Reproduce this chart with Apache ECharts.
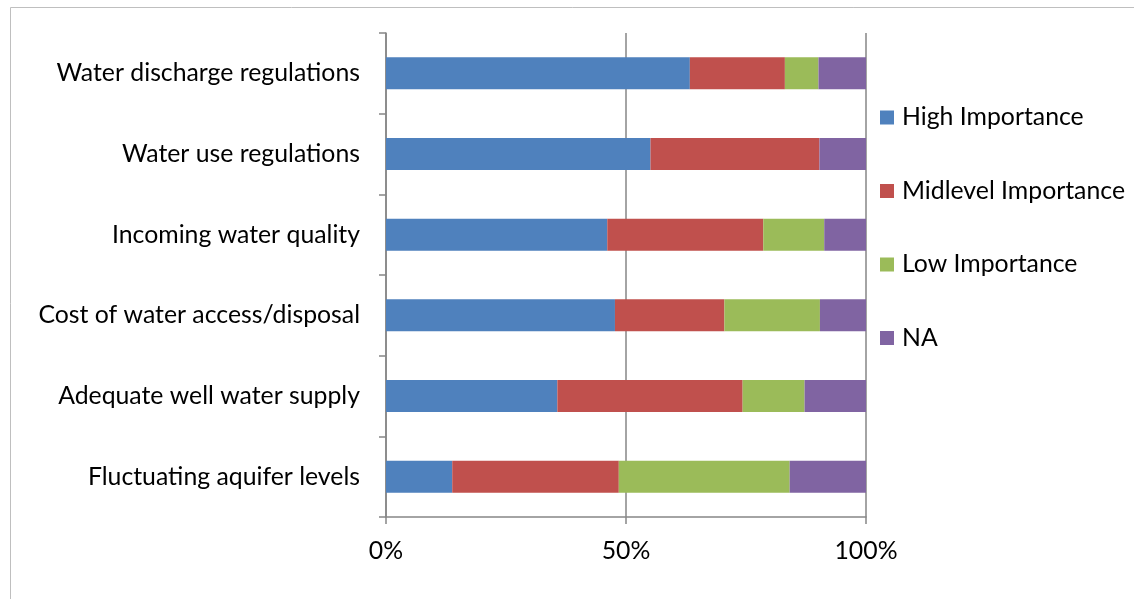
<!DOCTYPE html>
<html>
<head>
<meta charset="utf-8">
<script src="https://cdn.jsdelivr.net/npm/echarts@6/dist/echarts.min.js"></script>
<style>
html,body{margin:0;padding:0;background:#fff;}
#chart{width:1134px;height:599px;}
</style>
</head>
<body>
<div id="chart"></div>
<script>
const categories = ["Water discharge regulations","Water use regulations","Incoming water quality","Cost of water access/disposal","Adequate well water supply","Fluctuating aquifer levels"];
const seriesNames = ["High Importance","Midlevel Importance","Low Importance","NA"];
const highImportance = [63.3, 55.1, 46.1, 47.7, 35.7, 13.8];
const midImportance  = [19.8, 35.2, 32.5, 22.8, 38.6, 34.7];
const lowImportance  = [7.0, 0, 12.7, 19.9, 12.9, 35.6];
const naValues       = [9.9, 9.7, 8.7, 9.6, 12.8, 15.9];
const xTicks = [0, 50, 100];

const colors = ["#4F81BD","#C0504D","#9BBB59","#8064A2"];
const FONT = "Lato";
const chart = echarts.init(document.getElementById('chart'), null, {renderer:'canvas'});
const values = [highImportance, midImportance, lowImportance, naValues];
const option = {
  animation:false,
  backgroundColor:'#fff',
  color: colors,
  graphic:[{type:'rect', left:8, top:5, shape:{width:2000,height:2000}, style:{fill:'none', stroke:'#BFBFBF', lineWidth:1}, silent:true}],
  grid:{left:386, right:268, top:33, bottom:82, containLabel:false},
  legend:{
    orient:'vertical', left:875, top:99.5, itemWidth:14, itemHeight:14, itemGap:47.5,
    icon:'rect',
    textStyle:{fontFamily:FONT, fontSize:24.8, color:'#000', lineHeight:26, padding:[0,0,0,3]},
    data: seriesNames
  },
  xAxis:{
    type:'value', min:xTicks[0], max:xTicks[xTicks.length-1], interval:xTicks[1]-xTicks[0],
    axisLine:{show:true, lineStyle:{color:'#868686', width:1.5}},
    axisTick:{show:true, length:7, lineStyle:{color:'#868686', width:1.5}},
    splitLine:{show:true, lineStyle:{color:'#868686', width:1.5}},
    axisLabel:{formatter:'{value}%', fontFamily:FONT, fontSize:24.8, color:'#000', margin:22}
  },
  yAxis:{
    type:'category', data:categories, inverse:true,
    axisLine:{show:true, lineStyle:{color:'#868686', width:1.5}},
    axisTick:{show:true, length:7, lineStyle:{color:'#868686', width:1.5}},
    axisLabel:{fontFamily:FONT, fontSize:24.8, color:'#000', margin:26}
  },
  series: seriesNames.map((n,i)=>({
    name:n, type:'bar', stack:'total', barWidth:32,
    itemStyle:{color:colors[i]},
    data: values[i]
  }))
};
chart.setOption(option);
</script>
</body>
</html>
